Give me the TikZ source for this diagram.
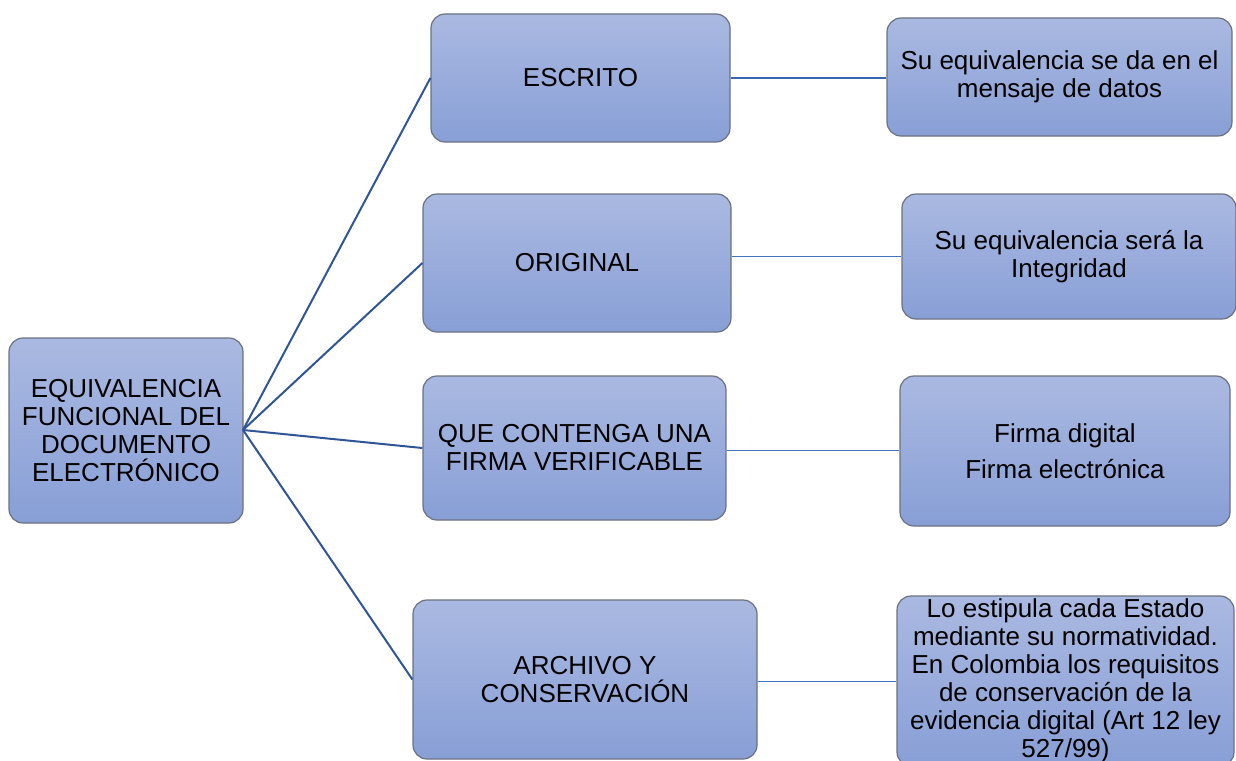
\documentclass[tikz,border=0pt]{standalone}
\usepackage{fontspec}
\setmainfont{Liberation Sans}
\definecolor{boxtop}{HTML}{AAB9E1}
\definecolor{boxbot}{HTML}{889FD6}
\definecolor{boxedge}{HTML}{6B7180}
\definecolor{darkline}{HTML}{2F5597}
\definecolor{midline}{HTML}{3A62AE}
\definecolor{thinline}{HTML}{4472C4}
\tikzset{
  box/.style={draw=boxedge, line width=1.2pt, rounded corners=14pt,
    top color=boxtop, bottom color=boxbot, align=center,
    font=\fontsize{26pt}{28pt}\selectfont, inner sep=0pt},
  conn/.style={draw=darkline, line width=2pt},
  midconn/.style={draw=midline, line width=2.2pt},
  thin/.style={draw=thinline, line width=1pt}
}
\newcommand{\bx}[6]{% name, x1, y1, x2, y2, text
  \node[box, minimum width=#4pt-#2pt, minimum height=#5pt-#3pt] (#1) at ({(#2+#4)/2*1pt},{-(#3+#5)/2*1pt}) {#6};}
\begin{document}
\begin{tikzpicture}
\useasboundingbox (0,0) rectangle (1236pt,-760pt);
\clip (0,0) rectangle (1236pt,-760pt);
\bx{root}{9}{338}{243}{523}{EQUIVALENCIA\\FUNCIONAL DEL\\DOCUMENTO\\ELECTRÓNICO}
\bx{a}{431}{14}{730}{142}{ESCRITO}
\bx{b}{423}{194}{731}{332}{ORIGINAL}
\bx{c}{423}{376}{726}{520}{QUE CONTENGA UNA\\FIRMA VERIFICABLE}
\bx{d}{413}{600}{757}{759}{ARCHIVO Y\\CONSERVACIÓN}
\bx{ra}{887}{18}{1232}{136}{Su equivalencia se da en el\\mensaje de datos}
\bx{rb}{902}{194}{1236}{319}{Su equivalencia será la\\Integridad}
\bx{rc}{900}{376}{1230}{526}{Firma digital\\[8pt]Firma electrónica}
\bx{rd}{897}{596}{1234}{766}{Lo estipula cada Estado\\mediante su normatividad.\\En Colombia los requisitos\\de conservación de la\\evidencia digital (Art 12 ley\\527/99)}
\coordinate (r0) at (243pt,-430pt);
\draw[conn] (r0) -- (a.west);
\draw[conn] (r0) -- (b.west);
\draw[conn] (r0) -- (c.west);
\draw[conn] (r0) -- (d.west);
\draw[midconn] (a.east) -- (a.east -| ra.west);
\draw[thin] ([yshift=7pt]b.east) -- ([yshift=7pt]b.east -| rb.west);
\draw[thin] ([yshift=-2pt]c.east) -- ([yshift=-2pt]c.east -| rc.west);
\draw[thin] ([yshift=-2pt]d.east) -- ([yshift=-2pt]d.east -| rd.west);
\end{tikzpicture}
\end{document}
